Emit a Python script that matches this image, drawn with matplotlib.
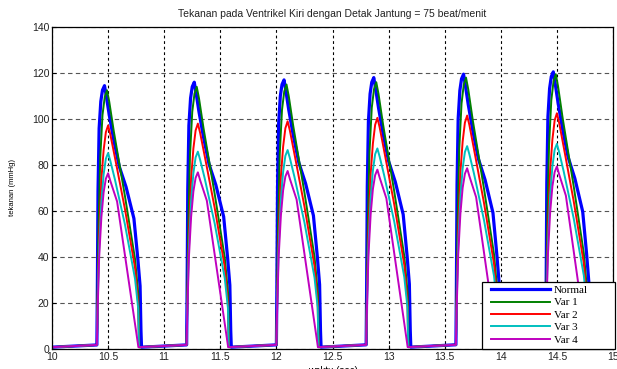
import numpy as np
import matplotlib
matplotlib.use("Agg")
import matplotlib.pyplot as plt
from matplotlib.patches import Rectangle

# ---------------- data ----------------
labels = ["Normal", "Var 1", "Var 2", "Var 3", "Var 4"]
colors = ["#0000ff", "#008000", "#ff0000", "#00bfbf", "#bf00bf"]
beat_onsets = [10.4, 11.2, 12.0, 12.8, 13.6, 14.4]

# knot times (s after onset) and pressures (mmHg) of one reference beat
normal_t = [0.000, 0.004, 0.010, 0.020, 0.035, 0.050, 0.068, 0.085, 0.110, 0.150, 0.200, 0.260, 0.330, 0.365, 0.385, 0.393, 0.398]
normal_p = [1.8, 25, 70, 98, 110, 115, 117, 112, 104, 93, 81.0, 72, 58, 40, 28, 8, 0.8]
var1_t = [0.000, 0.005, 0.015, 0.030, 0.050, 0.070, 0.090, 0.110, 0.150, 0.250, 0.340, 0.370, 0.378]
var1_p = [1.8, 20, 55, 85, 104, 112, 115, 110, 97, 68, 40, 24, 0.8]
var2_t = [0.000, 0.005, 0.020, 0.040, 0.060, 0.080, 0.100, 0.120, 0.160, 0.250, 0.340, 0.368, 0.375]
var2_p = [1.8, 18, 50, 75, 88, 96, 99, 95, 85, 62, 36, 20, 0.8]
var3_t = [0.000, 0.005, 0.020, 0.040, 0.060, 0.080, 0.100, 0.120, 0.160, 0.250, 0.340, 0.368, 0.375]
var3_p = [1.8, 16, 44, 65, 77, 84, 86.5, 83, 75, 55, 31, 18, 0.8]
var4_t = [0.000, 0.005, 0.020, 0.040, 0.060, 0.080, 0.100, 0.120, 0.180, 0.260, 0.340, 0.370]
var4_p = [1.8, 14, 40, 58, 69, 75, 77.4, 74, 65, 38, 11, 0.8]

# peak pressure of each beat (mmHg)
normal_peaks = [114.5, 116, 117, 118, 119.5, 120.5]
var1_peaks = [112.5, 114, 115, 116, 118, 119.5]
var2_peaks = [97.2, 98, 99, 100.5, 101.5, 102.5]
var3_peaks = [85.2, 85.8, 86.5, 87.2, 88.2, 89.2]
var4_peaks = [76.4, 76.8, 77.4, 78.0, 78.6, 79.4]

t_start, p_start = 10.0, 0.8
t_end, p_end = 15.0, 1.5

series = [
    (normal_t, normal_p, normal_peaks),
    (var1_t, var1_p, var1_peaks),
    (var2_t, var2_p, var2_peaks),
    (var3_t, var3_p, var3_peaks),
    (var4_t, var4_p, var4_peaks),
]

# ---------------- figure ----------------
W, H = 617, 369
fig = plt.figure(figsize=(W / 100, H / 100), dpi=100)
AX_L, AX_R, AX_T, AX_B = 52, 613, 27, 349
ax = fig.add_axes([AX_L / W, 1 - AX_B / H, (AX_R - AX_L) / W, (AX_B - AX_T) / H])

font = "Liberation Sans"
lws = [2.3, 1.4, 1.4, 1.4, 1.4]
handles = []
for (kt, kp, peaks), lab, col, lw in zip(series, labels, colors, lws):
    ref = max(kp)
    xs = [t_start]
    ys = [p_start]
    for onset, pk in zip(beat_onsets, peaks):
        s = pk / ref
        xs += [onset + t for t in kt]
        ys += [p * s for p in kp]
    xs.append(t_end)
    ys.append(p_end)
    h, = ax.plot(xs, ys, color=col, lw=lw, label=lab, solid_joinstyle="round")
    handles.append(h)

ax.set_xlim(10, 15)
ax.set_ylim(0, 140)
ax.set_xticks(np.arange(10, 15.01, 0.5))
ax.set_yticks(np.arange(0, 141, 20))
ax.set_xticklabels(["10", "10.5", "11", "11.5", "12", "12.5", "13", "13.5", "14", "14.5", "15"])
ax.tick_params(direction="in", length=3, width=0.8, labelsize=7.5, pad=2)
for lab in ax.get_xticklabels() + ax.get_yticklabels():
    lab.set_fontfamily(font)
    lab.set_color("#222222")

ax.grid(axis="x", color="black", linestyle=(0, (2.5, 2.5)), lw=0.8)
ax.grid(axis="y", color="#555555", linestyle=(0, (4, 3)), lw=0.8)
ax.set_axisbelow(True)
for sp in ax.spines.values():
    sp.set_linewidth(0.9)
    sp.set_color("black")

ax.set_title("Tekanan pada Ventrikel Kiri dengan Detak Jantung = 75 beat/menit",
             fontsize=7.5, fontfamily=font, pad=7, color="#222222")
ax.set_xlabel("waktu (sec)", fontsize=7, fontfamily=font, labelpad=3)
ax.set_ylabel("tekanan (mmHg)", fontsize=5.5, fontfamily=font, labelpad=11)

# legend box (frame drawn as a patch, in pixel-derived axes fractions)
LB_L, LB_R, LB_T, LB_B = 482, 615, 282, 349
def fx(px):
    return (px - AX_L) / (AX_R - AX_L)
def fy(py):
    return (AX_B - py) / (AX_B - AX_T)

box = Rectangle((fx(LB_L), fy(LB_B)), fx(LB_R) - fx(LB_L), fy(LB_T) - fy(LB_B),
                transform=ax.transAxes, facecolor="white", edgecolor="black",
                lw=0.9, zorder=9, clip_on=False)
ax.add_patch(box)
leg = ax.legend(handles=handles, loc="upper left",
                bbox_to_anchor=(fx(489), fy(LB_T + 1)),
                borderaxespad=0, frameon=False,
                prop={"family": "Liberation Serif", "size": 8},
                handlelength=5.3, handletextpad=0.35, labelspacing=0.24,
                borderpad=0.2)
leg.set_zorder(10)

fig.savefig("out.png", dpi=100)
